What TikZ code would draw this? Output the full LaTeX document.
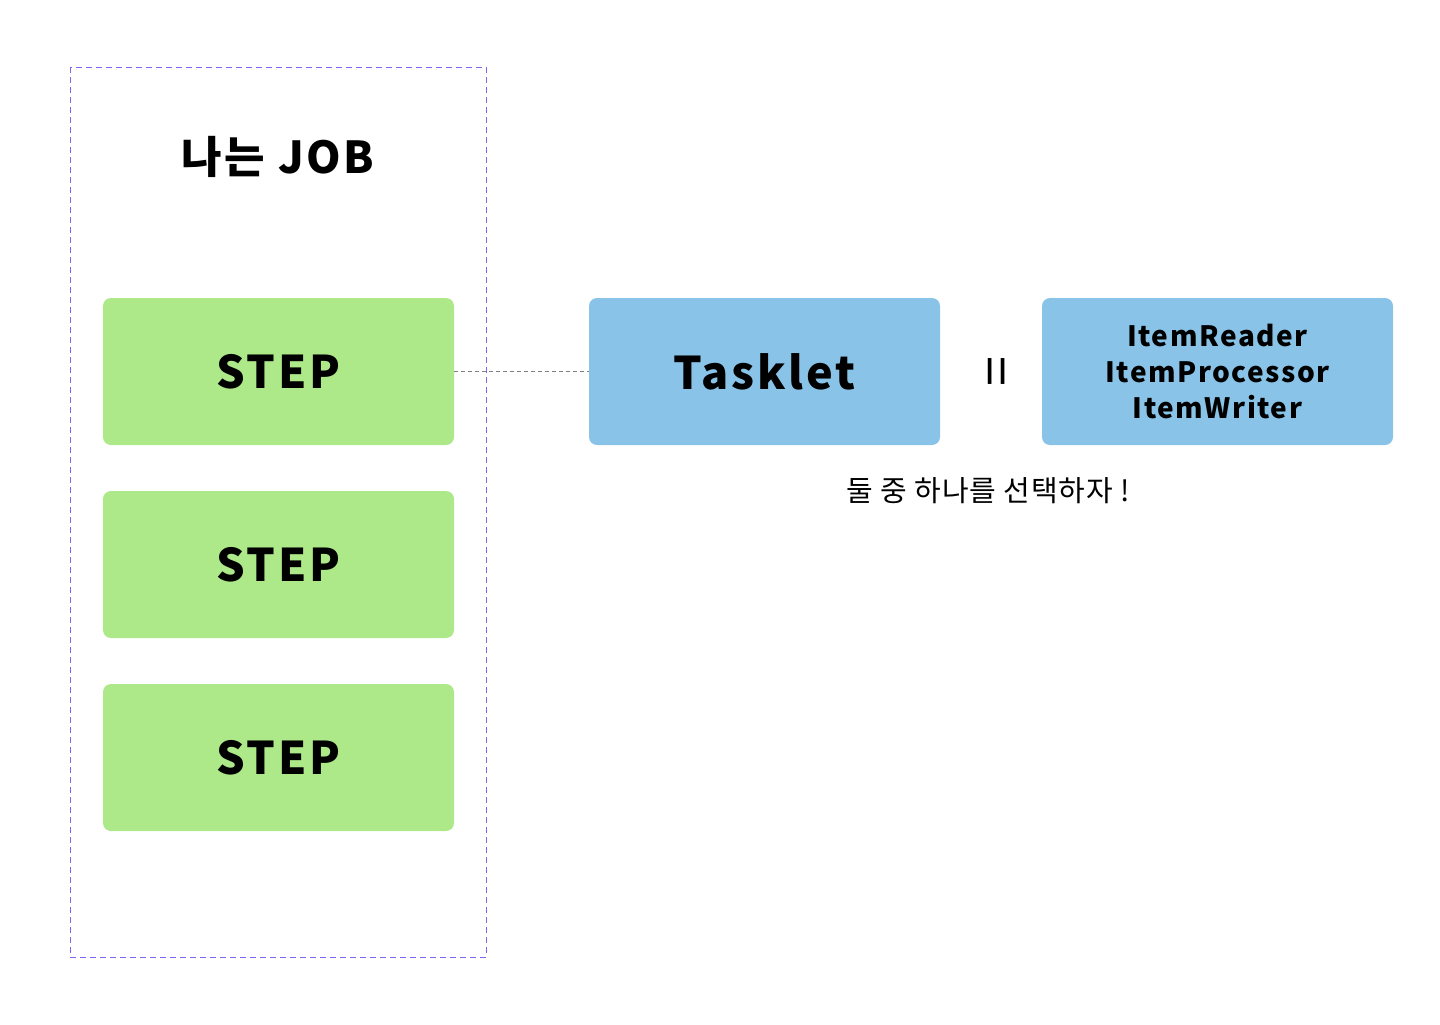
\documentclass[tikz,border=0pt]{standalone}
\usepackage{fontspec}
\setmainfont{Noto Sans CJK KR}
\usetikzlibrary{positioning}
\definecolor{stepgreen}{HTML}{ADE889}
\definecolor{taskblue}{HTML}{89C4E8}
\definecolor{jobline}{HTML}{7F66F0}
\newcommand{\spaced}[1]{\addfontfeature{LetterSpace=#1}}
\begin{document}
\begin{tikzpicture}[
  x=0.5pt, y=-0.5pt,
  stepbox/.style={rectangle, rounded corners=4pt, fill=stepgreen, minimum width=175.5pt, minimum height=73.5pt, inner sep=0pt, text depth=0pt, font=\bfseries\fontsize{22.5}{26}\selectfont\spaced{6.5}},
  taskbox/.style={rectangle, rounded corners=4pt, fill=taskblue, minimum width=175.5pt, minimum height=73.5pt, inner sep=0pt, align=center},
]
  \useasboundingbox (0,0) rectangle (1440,1024);
  % job frame
  \draw[jobline, dashed, dash pattern=on 3pt off 2pt, line width=0.5pt] (70,67) rectangle (486,957);
  \node[font=\bfseries\fontsize{22}{26}\selectfont\spaced{6}] (job) at (278,157) {나는 JOB};
  % steps
  \node[stepbox] (S1) at (278.5,371.5) {STEP};
  \node[stepbox] (S2) at (278.5,564.5) {STEP};
  \node[stepbox] (S3) at (278.5,757.5) {STEP};
  % tasklet / chunk
  \node[taskbox, font=\bfseries\fontsize{22.5}{26}\selectfont\spaced{6}] (T) at (764.5,371.5) {Tasklet};
  \node[taskbox, font=\bfseries\fontsize{14}{18}\selectfont\spaced{5.5}] (C) at (1217.5,371.5) {ItemReader\\ItemProcessor\\ItemWriter};
  \node[font=\fontsize{27}{30}\selectfont, rotate=90] (eq) at (1002,372) {=};
  \draw[gray, dashed, dash pattern=on 2pt off 1.5pt, line width=0.6pt] (S1.east) -- (T.west);
  \node[font=\fontsize{14.5}{16}\selectfont\spaced{3}] (pick) at (988,491) {둘 중 하나를 선택하자 !};
\end{tikzpicture}
\end{document}
